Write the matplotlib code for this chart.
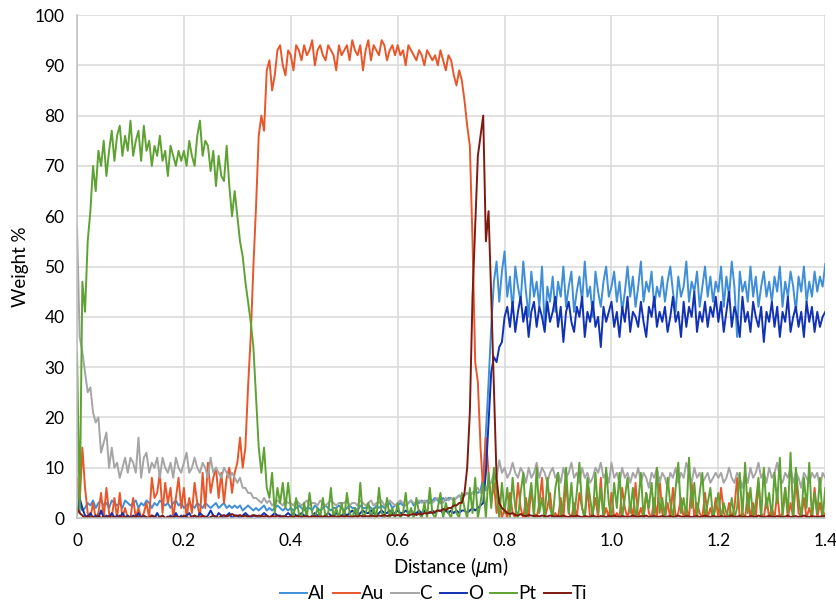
import numpy as np
import matplotlib
matplotlib.use("Agg")
import matplotlib.pyplot as plt

plt.rcParams['font.family'] = ['Lato', 'DejaVu Sans']

# Sampling grid of the line scan (µm)
distance = np.round(np.arange(281) * 0.005, 3)

al = [5, 3, 1.5, 2, 3, 2.5, 3.5, 2, 3, 3.5, 2.5, 3, 2, 3.5, 3, 2.5, 3, 2, 3.5, 3,
      2.5, 3, 3.5, 2, 3, 2.5, 3.5, 3, 2, 3, 2.5, 3.5, 3, 2.5, 3, 2, 3, 3.5, 2.5, 3,
      2, 2.5, 3, 2.5, 2, 3, 2.5, 2, 3, 2.5, 2, 2.5, 3, 2, 2.5, 3, 2, 2.5, 2, 2.5,
      2, 2.5, 1.5, 2, 2.5, 2, 1.5, 2, 1.5, 2, 2.5, 1.5, 2, 1.5, 2, 2.5, 2, 1.5, 2, 1.5,
      2, 1.5, 2, 2.5, 2, 1.5, 2, 2, 1.5, 2.5, 2, 1.5, 2, 2.5, 2, 1.5, 2, 2, 2.5, 2,
      1.5, 2, 2.5, 2, 2, 1.5, 2.5, 2, 2, 2.5, 2, 1.5, 2.5, 2, 2.5, 2, 2.5, 3, 2, 2.5,
      2.5, 3, 2.5, 2.5, 3, 3.5, 2.5, 3, 3, 3.5, 3, 3.5, 3, 3.5, 4, 3.5, 3, 4, 3.5, 4,
      4, 3.5, 4, 4.5, 4, 4.5, 5, 4.5, 5, 5.5, 5, 5.5, 8, 17, 27, 38, 47, 51, 43, 49,
      53, 44, 48, 41, 50, 46, 43, 51, 45, 40, 49, 44, 47, 42, 50, 38, 46, 43, 48, 41,
      47, 44, 50, 42, 46, 49, 41, 45, 48, 43, 51, 44, 46, 40, 49, 45, 42, 47, 50, 44,
      46, 49, 43, 47, 41, 45, 50, 44, 48, 42, 46, 51, 43, 47, 45, 49, 42, 46, 44, 48,
      43, 47, 50, 45, 41, 48, 44, 46, 51, 43, 47, 45, 49, 42, 46, 50, 44, 48, 43, 47,
      45, 50, 42, 48, 44, 51, 46, 36, 49, 45, 47, 43, 50, 44, 48, 42, 46, 49, 44, 47,
      43, 48, 45, 50, 42, 47, 44, 49, 46, 41, 48, 45, 50, 43, 47, 44, 49, 45, 48, 46,
      50.5]

au = [8, 3, 14, 6, 1, 0, 3, 0, 1, 5, 0, 6, 1, 0, 4, 0, 5, 0, 2, 0,
      0, 4, 0, 2, 0, 1, 3, 0, 8, 4, 5, 9, 1, 7, 3, 6, 0, 4, 8, 2,
      6, 0, 4, 1, 7, 3, 0, 9, 2, 11, 5, 8, 10, 4, 9, 3, 8, 10, 5, 9,
      11, 16, 10, 14, 26, 36, 50, 62, 76, 80, 77, 89, 91, 85, 88, 93, 94, 90, 88, 93,
      92, 89, 94, 93, 91, 94, 92, 93, 95, 90, 93, 94, 92, 91, 94, 93, 92, 89, 94, 92,
      93, 94, 91, 95, 93, 92, 94, 89, 93, 95, 91, 94, 93, 92, 95, 94, 91, 93, 94, 92,
      94, 92, 93, 90, 94, 93, 92, 91, 93, 92, 90, 93, 92, 91, 92, 90, 93, 91, 89, 92,
      91, 88, 86, 89, 87, 83, 78, 74, 55, 31, 27, 14, 5, 16, 9, 3, 7, 1, 4, 0,
      2, 0, 5, 1, 0, 7, 2, 0, 4, 0, 6, 1, 0, 3, 8, 0, 2, 5, 0, 1,
      0, 4, 0, 7, 1, 0, 3, 0, 5, 2, 0, 6, 0, 1, 4, 0, 8, 0, 2, 0,
      5, 0, 1, 0, 6, 2, 0, 3, 0, 7, 0, 2, 0, 5, 1, 0, 4, 0, 8, 1,
      0, 3, 0, 6, 0, 1, 4, 0, 2, 0, 7, 0, 3, 1, 0, 5, 0, 2, 0, 4,
      0, 6, 1, 0, 3, 0, 2, 8, 0, 1, 0, 5, 0, 3, 0, 7, 1, 0, 4, 0,
      2, 0, 5, 0, 1, 6, 0, 3, 0, 8, 1, 0, 4, 0, 2, 0, 6, 0, 3, 0,
      1]

c = [58, 36, 33, 29, 25, 26, 21, 19, 20, 13, 15, 17, 10, 14, 10, 11, 8, 10, 12, 9,
     12, 11, 9, 16, 8, 12, 13, 9, 11, 10, 12, 8, 12, 10, 9, 11, 8, 12, 10, 9,
     11, 13, 9, 10, 12, 10, 9, 11, 10, 8, 12, 9, 10, 9, 8, 10, 9, 8, 9, 8,
     7, 8, 6, 6, 5, 5, 4, 4, 3.5, 3, 4, 3, 3.5, 2.5, 3, 3.5, 3, 2.5, 3.5, 3,
     3, 2.5, 3.5, 3, 2.5, 3, 3.5, 2.5, 3, 3, 2.5, 3.5, 3, 2.5, 3, 3.5, 3, 2.5, 3, 3,
     3, 3.5, 2.5, 3, 3, 2.5, 3.5, 3, 2.5, 3, 3.5, 2.5, 3, 3, 3.5, 2.5, 3, 3.5, 3, 2.5,
     3, 3.5, 3, 2.5, 3, 3.5, 3, 3, 3.5, 3, 3.5, 3, 4, 3, 3.5, 4, 3.5, 3, 4, 3.5,
     4, 3.5, 4, 4.5, 4, 4.5, 5, 4.5, 5, 5.5, 6, 5, 6, 5.5, 7, 7, 9, 8, 11.5, 9,
     10, 8, 9, 11, 9, 8, 10, 9, 7, 10, 8, 9, 11, 8, 10, 9, 7, 9, 10, 8,
     9, 7, 10, 8, 9, 11, 8, 9, 7, 10, 8, 9, 7, 8, 10, 9, 11, 8, 9, 7,
     11, 8, 9, 7, 10, 8, 9, 7, 9, 8, 10, 7, 9, 8, 6, 9, 8, 10, 7, 9,
     8, 6, 9, 8, 10, 7, 9, 8, 11, 9, 7, 10, 8, 9, 7, 8, 9, 7, 8, 9,
     8, 9, 7, 8, 10, 8, 7, 9, 8, 6, 9, 7, 10, 8, 9, 11, 8, 9, 7, 10,
     8, 9, 11, 8, 7, 9, 8, 10, 7, 9, 8, 6, 9, 8, 7, 9, 8, 9, 6, 9,
     8]

o = [1, 4, 2, 0.5, 0, 1, 0, 0.5, 0, 1.5, 0, 0.5, 0, 1, 0, 0.5, 0, 1, 0, 0.5,
     0, 0.5, 0, 1, 0, 0.5, 0, 0, 0.5, 0, 1, 0, 0.5, 0, 0, 0.5, 0, 1, 0, 0.5,
     0, 0.5, 1, 0, 0.5, 0, 1, 0.5, 0, 0.5, 1.5, 0.5, 0, 1, 0.5, 0, 0.5, 1, 0, 0.5,
     0.5, 0, 0.5, 1, 0.5, 0, 0.5, 0.5, 0, 0.5, 1, 0.5, 0, 0.5, 1, 0.5, 0.5, 0, 0.5, 1,
     0.5, 1, 0.5, 0.5, 1, 0.5, 0.5, 0, 0.5, 1, 0.5, 0.5, 0, 0.5, 1, 0.5, 0.5, 1, 0.5, 0.5,
     1, 0.5, 1, 1.5, 1, 0.5, 1, 1.5, 1, 1, 1.5, 1, 0.5, 1, 1.5, 1, 1, 1.5, 1, 1,
     1.5, 1, 1, 1.5, 1, 1.5, 1, 1, 1.5, 1, 1.5, 1, 1, 1.5, 1, 1.5, 1.5, 1, 1.5, 1,
     1.5, 1, 1.5, 1, 1.5, 1.5, 1, 1.5, 2, 1.5, 2, 2.5, 3, 9, 19, 29, 32, 31, 34, 35,
     40, 42, 38, 43, 37, 41, 44, 39, 42, 36, 41, 43, 38, 42, 40, 37, 43, 39, 41, 44,
     38, 42, 35, 41, 43, 39, 37, 42, 40, 44, 36, 41, 39, 43, 38, 40, 34, 42, 39, 41,
     43, 38, 41, 36, 42, 39, 44, 37, 41, 40, 38, 43, 39, 36, 42, 40, 44, 38, 41, 39,
     42, 37, 40, 44, 39, 41, 36, 43, 38, 42, 40, 45, 37, 41, 39, 43, 38, 42, 40, 44,
     39, 43, 37, 41, 45, 38, 42, 40, 36, 44, 39, 41, 37, 43, 40, 38, 42, 35, 41, 39,
     43, 38, 42, 36, 41, 39, 44, 37, 40, 42, 38, 41, 36, 43, 39, 42, 37, 41, 38, 40,
     41]

pt = [33, 1, 47, 41, 55, 61, 70, 65, 73, 70, 75, 68, 73, 77, 71, 76, 78, 72, 76, 73,
      79, 72, 75, 77, 71, 78, 73, 75, 70, 74, 72, 76, 71, 73, 68, 74, 72, 70, 73, 71,
      73, 70, 75, 72, 70, 76, 79, 72, 75, 74, 69, 73, 66, 72, 68, 67, 74, 66, 60, 65,
      60, 55, 52, 47, 43, 39, 34, 24, 14, 9, 14, 6, 4, 9, 1, 6, 3, 7, 2, 7,
      2, 0, 4, 1, 0, 3, 0, 5, 1, 0, 2, 0, 4, 0, 1, 6, 0, 2, 0, 3,
      0, 5, 1, 0, 2, 0, 7, 0, 1, 3, 0, 2, 0, 6, 1, 0, 4, 0, 2, 0,
      3, 0, 1, 5, 0, 2, 0, 4, 1, 0, 3, 0, 6, 1, 0, 2, 5, 0, 3, 1,
      0, 4, 1, 0, 5, 2, 0, 6, 1, 8, 0, 3, 7, 0, 9, 2, 10, 5, 0, 7,
      1, 6, 0, 8, 2, 0, 5, 9, 0, 3, 7, 0, 10, 1, 4, 0, 8, 2, 0, 6,
      9, 0, 3, 10, 1, 7, 0, 5, 11, 2, 0, 8, 4, 0, 9, 1, 6, 0, 10, 3,
      0, 7, 2, 9, 0, 4, 8, 1, 6, 0, 3, 9, 0, 5, 2, 7, 0, 10, 1, 4,
      0, 8, 3, 0, 6, 11, 1, 4, 0, 12, 2, 7, 0, 5, 9, 0, 3, 6, 0, 2,
      5, 0, 3, 1, 0, 4, 0, 2, 9, 0, 11, 1, 6, 0, 3, 8, 0, 10, 2, 5,
      0, 9, 3, 12, 0, 6, 1, 13, 0, 10, 4, 0, 8, 2, 11, 0, 5, 1, 8, 0,
      6]

ti = [2, 1, 0.5, 0, 0.5, 0, 0.3, 0, 0.5, 0, 0.3, 0, 0.5, 0, 0.3, 0, 0.5, 0, 0.3, 0,
      0.3, 0, 0.5, 0.2, 0, 0.4, 0.2, 0, 0.5, 0.3, 0, 0.2, 0.5, 0, 0.3, 0.2, 0, 0.4, 0.2, 0,
      0.5, 0.2, 0, 0.3, 0.5, 0.2, 0, 0.4, 0.3, 0, 0.2, 0.5, 0.3, 0, 0.4, 0.6, 0.3, 0.5, 0.8, 0.5,
      0.4, 0.6, 0.3, 0.5, 0.2, 0.4, 0.6, 0.3, 0.5, 0.4, 0.3, 0.5, 0.2, 0.4, 0.3, 0.5, 0.2, 0.4, 0.3, 0.2,
      0.3, 0.2, 0.4, 0.3, 0.2, 0.3, 0.4, 0.2, 0.3, 0.4, 0.2, 0.3, 0.3, 0.4, 0.2, 0.3, 0.4, 0.3, 0.2, 0.4,
      0.3, 0.4, 0.3, 0.2, 0.4, 0.3, 0.5, 0.3, 0.4, 0.3, 0.5, 0.4, 0.3, 0.5, 0.4, 0.6, 0.4, 0.5, 0.6, 0.5,
      0.6, 0.5, 0.7, 0.6, 0.5, 0.7, 0.8, 0.6, 0.9, 0.7, 1.0, 0.9, 1.2, 1.0, 1.3, 1.5, 1.4, 1.8, 1.6, 2,
      2, 2.5, 2.5, 3, 3, 5, 10, 21, 44, 58, 72, 76, 80, 55, 61, 44, 26, 8, 3, 2,
      1.5, 1, 0.8, 1, 0.6, 0.5, 0.8, 0.5, 0.4, 0.6, 0.5, 0.4, 0.5, 0.3, 0.5, 0.4, 0.3, 0.5, 0.4, 0.3,
      0.4, 0.3, 0.5, 0.3, 0.2, 0.4, 0.3, 0.5, 0.3, 0.2, 0.4, 0.3, 0.2, 0.5, 0.3, 0.2, 0.4, 0.3, 0.2, 0.4,
      0.3, 0.5, 0.3, 0.2, 0.4, 0.3, 0.2, 0.3, 0.5, 0.3, 0.2, 0.4, 0.3, 0.5, 0.2, 0.3, 0.4, 0.2, 0.3, 0.4,
      0.2, 0.3, 0.4, 0.2, 0.3, 0.5, 0.3, 0.2, 0.4, 0.3, 0.2, 0.3, 0.4, 0.2, 0.3, 0.5, 0.3, 0.2, 0.4, 0.3,
      0.2, 0.4, 0.3, 0.2, 0.3, 0.5, 0.2, 0.3, 0.4, 0.2, 0.3, 0.2, 0.4, 0.3, 0.2, 0.5, 0.3, 0.2, 0.3, 0.4,
      0.3, 0.2, 0.4, 0.3, 0.2, 0.3, 0.5, 0.2, 0.3, 0.4, 0.2, 0.3, 0.5, 0.3, 0.2, 0.4, 0.3, 0.2, 0.3, 0.4,
      0.3]

elements = ['Al', 'Au', 'C', 'O', 'Pt', 'Ti']
series = [al, au, c, o, pt, ti]
colors = ['#3F8ED8', '#E8562A', '#A5A5A5', '#1232B4', '#5EA233', '#7E1A10']

for name, vals in zip(elements, series):
    assert len(vals) == len(distance), (name, len(vals))

fig = plt.figure(figsize=(8.37, 6.01), dpi=100)
ax = fig.add_axes([0.092, 0.138, 0.894, 0.837])

for name, vals, col in zip(elements, series, colors):
    ax.plot(distance, vals, color=col, lw=1.4, label=name)

ax.set_xlim(0, 1.4)
ax.set_ylim(0, 100)
ax.set_xticks(np.arange(0, 1.41, 0.2))
ax.set_xticklabels(['0', '0.2', '0.4', '0.6', '0.8', '1.0', '1.2', '1.4'])
ax.set_yticks(np.arange(0, 101, 10))
ax.tick_params(length=0, labelsize=12.5, colors='#000000')
ax.tick_params(axis='x', pad=11)
ax.tick_params(axis='y', pad=9)
ax.grid(True, color='#D9D9D9', lw=1.1)
ax.set_axisbelow(True)
for side in ['top', 'right']:
    ax.spines[side].set_visible(False)
for side in ['left', 'bottom']:
    ax.spines[side].set_color('#BFBFBF')
    ax.spines[side].set_linewidth(1.1)

ax.set_xlabel(r'Distance ($\mu$m)', fontsize=13.5, labelpad=4)
ax.set_ylabel('Weight %', fontsize=13.5, labelpad=4)

fig.legend(loc='lower center', bbox_to_anchor=(0.518, -0.03), ncol=6,
           frameon=False, fontsize=13.5, handlelength=1.45, handletextpad=0.05,
           columnspacing=0.4)

fig.savefig('out.png', dpi=100)
